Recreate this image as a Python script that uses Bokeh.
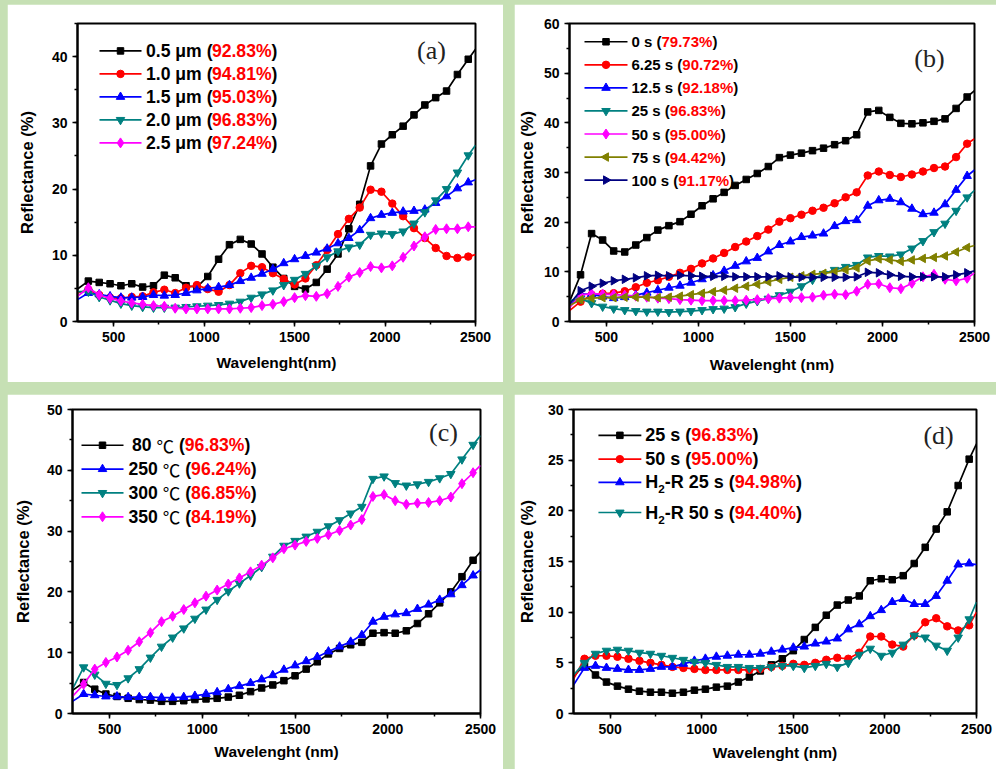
from math import pi

from bokeh.embed import file_html
from bokeh.layouts import column, row
from bokeh.models import Label, Range1d, SingleIntervalTicker, Spacer
from bokeh.plotting import figure
from bokeh.resources import INLINE

# ---------------------------------------------------------------- data
WL = [300, 360, 420, 480, 540, 600, 660, 720, 780, 840, 900, 960, 1020, 1080,
      1140, 1200, 1260, 1320, 1380, 1440, 1500, 1560, 1620, 1680, 1740, 1800,
      1860, 1920, 1980, 2040, 2100, 2160, 2220, 2280, 2340, 2400, 2460, 2500]

# (a) film thickness
A_05 = [4.9, 6.1, 5.9, 5.7, 5.4, 5.7, 5.2, 5.4, 7.0, 6.6, 5.4, 5.2, 6.8, 9.4, 11.6, 12.4, 11.7, 10.2, 8.2,
        6.5, 5.3, 4.9, 5.9, 7.9, 10.2, 14.0, 17.7, 23.5, 26.8, 28.2, 29.5, 31.2, 32.7, 33.8, 34.8, 37.3, 39.6, 41.1]
A_10 = [4.3, 4.8, 4.0, 3.6, 3.5, 3.7, 3.8, 4.4, 4.8, 4.3, 5.1, 5.5, 4.9, 4.5, 5.5, 7.3, 8.4, 8.2, 7.3,
        6.4, 5.6, 6.5, 8.5, 10.8, 13.2, 15.5, 17.2, 19.9, 19.6, 17.8, 15.9, 14.1, 12.6, 11.1, 9.9, 9.6, 9.8, 10.1]
A_15 = [3.3, 4.3, 4.1, 3.8, 3.6, 3.6, 3.7, 4.0, 3.9, 4.0, 4.3, 4.7, 5.0, 5.2, 5.5, 6.1, 6.6, 7.2, 7.9,
        8.8, 9.4, 9.9, 10.4, 11.0, 11.8, 12.6, 13.8, 15.6, 16.1, 16.4, 16.6, 16.7, 16.9, 17.9, 18.9, 20.1, 21.0, 21.4]
A_20 = [4.5, 4.5, 3.7, 3.2, 2.7, 2.4, 2.2, 2.1, 2.1, 2.1, 2.2, 2.3, 2.4, 2.5, 2.7, 3.0, 3.6, 4.1, 4.7,
        5.5, 6.3, 7.2, 8.4, 9.7, 10.6, 11.2, 11.6, 13.1, 13.3, 13.2, 13.6, 14.8, 16.5, 18.3, 20.0, 22.5, 25.1, 26.6]
A_25 = [3.8, 5.1, 4.0, 3.5, 3.1, 2.8, 2.6, 2.4, 2.3, 2.0, 1.9, 1.9, 1.9, 1.9, 1.9, 2.0, 2.1, 2.4, 2.6,
        3.0, 3.6, 3.9, 3.8, 4.2, 5.3, 6.7, 7.4, 8.3, 8.1, 8.4, 9.7, 11.4, 12.8, 13.9, 14.0, 14.0, 14.3, 14.3]
A_NAMES = ["0.5 μm", "1.0 μm", "1.5 μm", "2.0 μm", "2.5 μm"]
A_PCT = ["92.83%", "94.81%", "95.03%", "96.83%", "97.24%"]

# (b) etching time
B_0 = [4.0, 9.4, 17.7, 16.4, 14.2, 14.0, 15.4, 16.9, 18.4, 19.3, 20.1, 21.6, 23.3, 24.7, 26.0, 27.4, 28.6, 29.8, 31.2,
       33.0, 33.5, 33.9, 34.4, 34.9, 35.6, 36.4, 37.6, 42.2, 42.5, 41.1, 39.9, 39.8, 40.0, 40.3, 40.8, 42.9, 45.2, 46.5]
B_625 = [2.2, 4.0, 5.4, 5.6, 5.7, 6.1, 6.9, 7.8, 8.3, 9.0, 9.8, 10.6, 11.7, 12.7, 13.8, 15.0, 16.1, 17.2, 18.5,
         20.1, 20.8, 21.5, 22.3, 22.9, 23.8, 25.0, 26.0, 29.4, 30.2, 29.5, 29.1, 29.6, 30.2, 30.9, 31.2, 33.1, 35.8, 36.8]
B_125 = [3.0, 5.5, 5.5, 5.0, 4.7, 4.9, 5.3, 5.8, 6.3, 6.8, 7.2, 7.8, 8.5, 9.3, 10.2, 11.2, 12.1, 12.8, 14.1,
         15.4, 16.1, 17.0, 17.3, 17.7, 19.2, 20.2, 20.4, 23.3, 24.4, 24.7, 24.0, 22.7, 21.6, 21.9, 23.6, 26.5, 29.3, 30.5]
B_25 = [4.2, 4.6, 3.7, 3.0, 2.6, 2.3, 2.1, 2.0, 2.0, 1.9, 2.0, 2.1, 2.3, 2.5, 2.6, 2.9, 3.6, 4.1, 4.6,
        5.3, 6.0, 7.1, 8.4, 9.6, 10.4, 11.0, 11.4, 12.9, 13.2, 13.1, 13.5, 14.7, 16.2, 18.0, 19.7, 22.3, 25.0, 26.4]
B_50 = [2.8, 5.3, 5.6, 5.5, 5.4, 5.3, 5.1, 4.9, 4.7, 4.6, 4.4, 4.3, 4.2, 4.2, 4.2, 4.2, 4.3, 4.4, 4.6,
        4.7, 4.8, 4.8, 4.9, 5.3, 5.5, 5.4, 6.1, 7.5, 7.6, 6.8, 6.6, 7.7, 9.0, 9.5, 8.5, 8.2, 8.7, 9.8]
B_75 = [3.2, 4.4, 4.7, 4.8, 4.8, 4.9, 4.9, 4.9, 4.8, 4.9, 5.1, 5.4, 5.7, 6.0, 6.3, 6.7, 7.1, 7.5, 8.0,
        8.5, 8.9, 9.2, 9.5, 9.7, 10.0, 10.4, 10.8, 12.2, 12.6, 12.4, 12.1, 12.4, 12.7, 12.9, 13.2, 14.0, 14.9, 15.3]
B_100 = [3.5, 6.2, 7.1, 7.7, 8.2, 8.5, 8.8, 9.2, 9.3, 9.2, 9.3, 9.2, 9.1, 9.1, 9.1, 9.0, 9.0, 9.0, 9.0,
         9.2, 9.0, 8.9, 8.9, 8.9, 8.9, 8.9, 9.0, 9.9, 9.8, 9.4, 9.1, 9.0, 9.0, 9.0, 9.0, 9.4, 9.8, 10.2]
B_NAMES = ["0 s", "6.25 s", "12.5 s", "25 s", "50 s", "75 s", "100 s"]
B_PCT = ["79.73%", "90.72%", "92.18%", "96.83%", "95.00%", "94.42%", "91.17%"]

# (c) annealing temperature
C_80 = [3.8, 5.1, 4.0, 3.2, 2.8, 2.5, 2.3, 2.2, 2.0, 2.0, 2.1, 2.3, 2.4, 2.5, 2.7, 3.0, 3.6, 4.2, 4.7,
        5.4, 6.2, 7.3, 8.5, 9.8, 10.7, 11.3, 11.7, 13.2, 13.3, 13.2, 13.6, 14.8, 16.4, 18.2, 20.0, 22.5, 25.2, 26.6]
C_250 = [2.0, 3.2, 3.0, 2.8, 2.8, 2.7, 2.7, 2.7, 2.6, 2.6, 2.7, 2.9, 3.2, 3.5, 4.0, 4.5, 5.0, 5.6, 6.3,
         7.2, 7.9, 8.6, 9.3, 10.2, 11.0, 11.8, 12.9, 15.1, 15.9, 16.3, 16.5, 17.2, 17.9, 18.7, 19.6, 21.1, 22.7, 23.6]
C_300 = [4.0, 7.6, 6.4, 4.9, 4.7, 5.8, 7.3, 9.2, 11.0, 12.5, 14.0, 15.6, 17.1, 18.7, 20.1, 21.4, 22.7, 24.1, 25.8,
         27.6, 28.4, 29.1, 29.9, 30.8, 31.8, 32.9, 34.0, 38.6, 39.0, 37.9, 37.5, 37.7, 38.1, 38.7, 39.4, 41.8, 44.2, 45.7]
C_350 = [2.8, 4.8, 7.3, 8.4, 9.3, 10.4, 11.8, 13.3, 15.1, 16.0, 17.1, 18.2, 19.3, 20.3, 21.3, 22.3, 23.3, 24.4, 25.6,
         27.1, 27.7, 28.3, 28.8, 29.4, 30.1, 31.0, 31.9, 35.7, 36.0, 35.0, 34.4, 34.6, 34.7, 35.0, 35.6, 37.8, 39.6, 40.8]
C_TEMPS = ["80", "250", "300", "350"]
C_PCT = ["96.83%", "96.24%", "86.85%", "84.19%"]

# (d) hydrogen-reduced samples
D_25 = [3.6, 4.9, 3.8, 3.1, 2.7, 2.4, 2.2, 2.1, 2.1, 2.0, 2.1, 2.3, 2.4, 2.6, 2.7, 3.1, 3.6, 4.2, 4.8,
        5.4, 6.2, 7.3, 8.5, 9.7, 10.7, 11.2, 11.6, 13.1, 13.3, 13.2, 13.6, 14.8, 16.4, 18.2, 19.9, 22.5, 25.1, 26.6]
D_50 = [3.4, 5.4, 5.7, 5.7, 5.6, 5.4, 5.2, 5.0, 4.8, 4.6, 4.5, 4.4, 4.3, 4.3, 4.3, 4.3, 4.3, 4.4, 4.6,
        4.7, 4.9, 4.8, 5.0, 5.3, 5.5, 5.4, 6.0, 7.6, 7.6, 6.8, 6.6, 7.7, 9.0, 9.4, 8.6, 8.2, 8.7, 10.0]
D_H25 = [2.8, 4.5, 4.7, 4.5, 4.4, 4.3, 4.3, 4.4, 4.6, 4.6, 4.9, 5.2, 5.4, 5.6, 5.7, 5.8, 5.8, 5.9, 6.1,
         6.3, 6.5, 6.6, 6.9, 7.1, 7.4, 8.3, 8.8, 9.6, 10.2, 11.0, 11.3, 10.8, 10.8, 11.6, 13.1, 14.7, 14.8, 14.7]
D_H50 = [3.8, 5.0, 5.9, 6.2, 6.3, 6.2, 6.0, 5.9, 5.7, 5.5, 5.3, 5.1, 5.0, 4.8, 4.6, 4.6, 4.5, 4.5, 4.6,
         4.7, 4.7, 4.5, 4.7, 4.9, 4.6, 5.0, 5.8, 6.4, 5.7, 6.0, 6.8, 7.7, 7.5, 6.7, 6.2, 7.5, 9.3, 11.0]
D_PCT = ["96.83%", "95.00%", "94.98%", "94.40%"]

# ---------------------------------------------------------------- styling
BG = "#c6e0b4"
RED = "#ff0000"
SANS = "Liberation Sans"
SERIF = "Liberation Serif"
CJK = "Noto Sans CJK SC"
LW = 1.7

# series styles: colour, marker, rotation, marker size
S_BLACK = ("#000000", "square", 0.0, 6.5)
S_RED = ("#ff0000", "circle", 0.0, 7.5)
S_BLUE = ("#0000ff", "triangle", 0.0, 8.5)
S_TEAL = ("#008080", "inverted_triangle", 0.0, 8.5)
S_MAG = ("#ff00ff", "diamond", 0.0, 10.0)
S_OLIVE = ("#808000", "triangle", pi / 2, 8.5)
S_NAVY = ("#000080", "triangle", -pi / 2, 8.5)

# advance widths (1/1000 em) of the bold sans face
ADV = {" ": 278, ".": 278, "(": 333, ")": 333, "%": 889, "-": 333, "s": 556,
       "m": 889, "μ": 576, "H": 722, "R": 722, "℃": 1000}


def advance(text, size):
    return sum(ADV.get(ch, 556) for ch in text) * size / 1000.0


def make_panel(width, height, left, right, top, bottom, ymax, ystep, xlabel,
               ylab_standoff, xlab_standoff):
    p = figure(width=width, height=height, output_backend="svg", toolbar_location=None,
               x_range=Range1d(300, 2500), y_range=Range1d(0, ymax),
               min_border_left=left, min_border_right=right,
               min_border_top=top, min_border_bottom=bottom,
               background_fill_color="white", border_fill_color="white")
    p.extra_x_ranges = {"fx": Range1d(0, 1)}
    p.extra_y_ranges = {"fy": Range1d(0, 1)}
    p.outline_line_color = "black"
    p.outline_line_width = 2
    p.outline_line_alpha = 1.0
    p.xgrid.visible = False
    p.ygrid.visible = False
    p.xaxis.ticker = SingleIntervalTicker(interval=500, num_minor_ticks=2)
    p.yaxis.ticker = SingleIntervalTicker(interval=ystep, num_minor_ticks=2)
    p.xaxis.axis_label = xlabel
    p.yaxis.axis_label = "Reflectance (%)"
    for ax in (p.xaxis[0], p.yaxis[0]):
        ax.axis_line_width = 2
        ax.axis_line_color = "black"
        ax.major_tick_in = 0
        ax.major_tick_out = 5
        ax.minor_tick_in = 0
        ax.minor_tick_out = 3
        ax.major_tick_line_width = 1.5
        ax.minor_tick_line_width = 1.5
        ax.major_tick_line_color = "black"
        ax.minor_tick_line_color = "black"
        ax.major_label_text_font = SANS
        ax.major_label_text_font_style = "bold"
        ax.major_label_text_font_size = "14px"
        ax.major_label_text_color = "black"
        ax.major_label_standoff = 5
        ax.axis_label_text_font = SANS
        ax.axis_label_text_font_style = "bold"
        ax.axis_label_text_color = "black"
    p.xaxis[0].axis_label_text_font_size = "15.5px"
    p.yaxis[0].axis_label_text_font_size = "16.5px"
    p.yaxis[0].axis_label_standoff = ylab_standoff
    p.xaxis[0].axis_label_standoff = xlab_standoff
    return p


def draw_series(p, values, style):
    color, marker, angle, msize = style
    p.line(WL, values, line_color=color, line_width=LW)
    p.scatter(WL[1:-1], values[1:-1], marker=marker, angle=angle, size=msize,
              fill_color=color, line_color=color)


def legend_row(p, fw, fh, y_px, x0, x1, x_text, size, style, segments):
    """One legend entry: line sample with marker, then multi-coloured text."""
    color, marker, angle, msize = style
    yf = 1 - y_px / fh
    p.line([x0 / fw, x1 / fw], [yf, yf], x_range_name="fx", y_range_name="fy",
           line_color=color, line_width=LW)
    p.scatter([(x0 + x1) / 2 / fw], [yf], x_range_name="fx", y_range_name="fy",
              marker=marker, angle=angle, size=msize, fill_color=color, line_color=color)
    off = 0.0
    for text, col, font, style_w, scale, dy in segments:
        fs = size * scale
        stripped = text.lstrip(" ")
        off += advance(text[: len(text) - len(stripped)], fs)
        p.add_layout(Label(x=x_text / fw, y=yf, x_range_name="fx", y_range_name="fy",
                           x_offset=off, y_offset=dy, text=stripped, text_color=col,
                           text_font=font, text_font_style=style_w,
                           text_font_size=f"{fs:.1f}px", text_baseline="middle",
                           text_align="left"))
        off += advance(stripped, fs)


def tag(p, fw, fh, x_px, y_px, text):
    p.add_layout(Label(x=x_px / fw, y=1 - y_px / fh, x_range_name="fx", y_range_name="fy",
                       text=text, text_font=SERIF, text_font_size="26px",
                       text_color="#222222", text_align="center", text_baseline="middle"))


def plain(name, pct):
    return [(name + " (", "black", SANS, "bold", 1.0, 0),
            (pct, RED, SANS, "bold", 1.0, 0),
            (")", "black", SANS, "bold", 1.0, 0)]


# ---------------------------------------------------------------- (a)
FA_W, FA_H = 398, 298
pa = make_panel(496, 378, 70, 28, 19, 61, 45, 10, "Wavelenght(nm)", 13, 9)
A_SERIES = [A_05, A_10, A_15, A_20, A_25]
A_STYLES = [S_BLACK, S_RED, S_BLUE, S_TEAL, S_MAG]
for vals, st in zip(A_SERIES, A_STYLES):
    draw_series(pa, vals, st)
for i, (nm, pc, st) in enumerate(zip(A_NAMES, A_PCT, A_STYLES)):
    legend_row(pa, FA_W, FA_H, 27.4 + 23.0 * i, 22, 64, 68.5, 17.6, st, plain(nm, pc))
tag(pa, FA_W, FA_H, 354, 27, "(a)")

# ---------------------------------------------------------------- (b)
FB_W, FB_H = 405, 305
pb = make_panel(482, 378, 55, 22, 13, 60, 60, 10, "Wavelenght (nm)", 5, 11)
B_SERIES = [B_0, B_625, B_125, B_25, B_50, B_75, B_100]
B_STYLES = [S_BLACK, S_RED, S_BLUE, S_TEAL, S_MAG, S_OLIVE, S_NAVY]
for vals, st in zip(B_SERIES, B_STYLES):
    draw_series(pb, vals, st)
for i, (nm, pc, st) in enumerate(zip(B_NAMES, B_PCT, B_STYLES)):
    legend_row(pb, FB_W, FB_H, 18.7 + 23.6 * i, 15, 58, 62, 15, st, plain(nm, pc))
tag(pb, FB_W, FB_H, 360, 36, "(b)")

# ---------------------------------------------------------------- (c)
FC_W, FC_H = 408, 306
pc_ = make_panel(496, 375, 65, 23, 13, 56, 50, 10, "Wavelenght (nm)", 12, 6)
C_SERIES = [C_80, C_250, C_300, C_350]
C_STYLES = [S_BLACK, S_BLUE, S_TEAL, S_MAG]
for vals, st in zip(C_SERIES, C_STYLES):
    draw_series(pc_, vals, st)
for i, (t, pc, st) in enumerate(zip(C_TEMPS, C_PCT, C_STYLES)):
    segs = [(t + " ", "black", SANS, "bold", 1.0, 0),
            ("℃", "black", CJK, "normal", 1.0, 0),
            (" (", "black", SANS, "bold", 1.0, 0),
            (pc, RED, SANS, "bold", 1.0, 0),
            (")", "black", SANS, "bold", 1.0, 0)]
    indent = 3.5 if len(t) == 2 else 0.0
    legend_row(pc_, FC_W, FC_H, 36 + 24.0 * i, 9, 51, 56 + indent, 17.6, st, segs)
tag(pc_, FC_W, FC_H, 371, 23, "(c)")

# ---------------------------------------------------------------- (d)
FD_W, FD_H = 404, 306
pd = make_panel(482, 375, 58, 20, 15, 54, 30, 5, "Wavelenght (nm)", 9, 7)
D_SERIES = [D_25, D_50, D_H25, D_H50]
D_STYLES = [S_BLACK, S_RED, S_BLUE, S_TEAL]
for vals, st in zip(D_SERIES, D_STYLES):
    draw_series(pd, vals, st)
D_ROWS = [26, 50, 73.3, 103.7]
d_labels = [plain("25 s", D_PCT[0]), plain("50 s", D_PCT[1])]
for dur, pc in (("25 s", D_PCT[2]), ("50 s", D_PCT[3])):
    d_labels.append([("H", "black", SANS, "bold", 1.0, 0),
                     ("2", "black", SANS, "bold", 0.65, -7),
                     ("-R " + dur + " (", "black", SANS, "bold", 1.0, 0),
                     (pc, RED, SANS, "bold", 1.0, 0),
                     (")", "black", SANS, "bold", 1.0, 0)])
for y_px, st, segs in zip(D_ROWS, D_STYLES, d_labels):
    legend_row(pd, FD_W, FD_H, y_px, 25, 68, 72, 18, st, segs)
tag(pd, FD_W, FD_H, 366, 26, "(d)")

# ---------------------------------------------------------------- layout
root = column(
    Spacer(height=4),
    row(Spacer(width=7), pa, Spacer(width=11), pb),
    Spacer(height=12),
    row(Spacer(width=7), pc_, Spacer(width=11), pd),
    styles={"background-color": BG},
)

open("out.html", "w").write(file_html(root, INLINE))
